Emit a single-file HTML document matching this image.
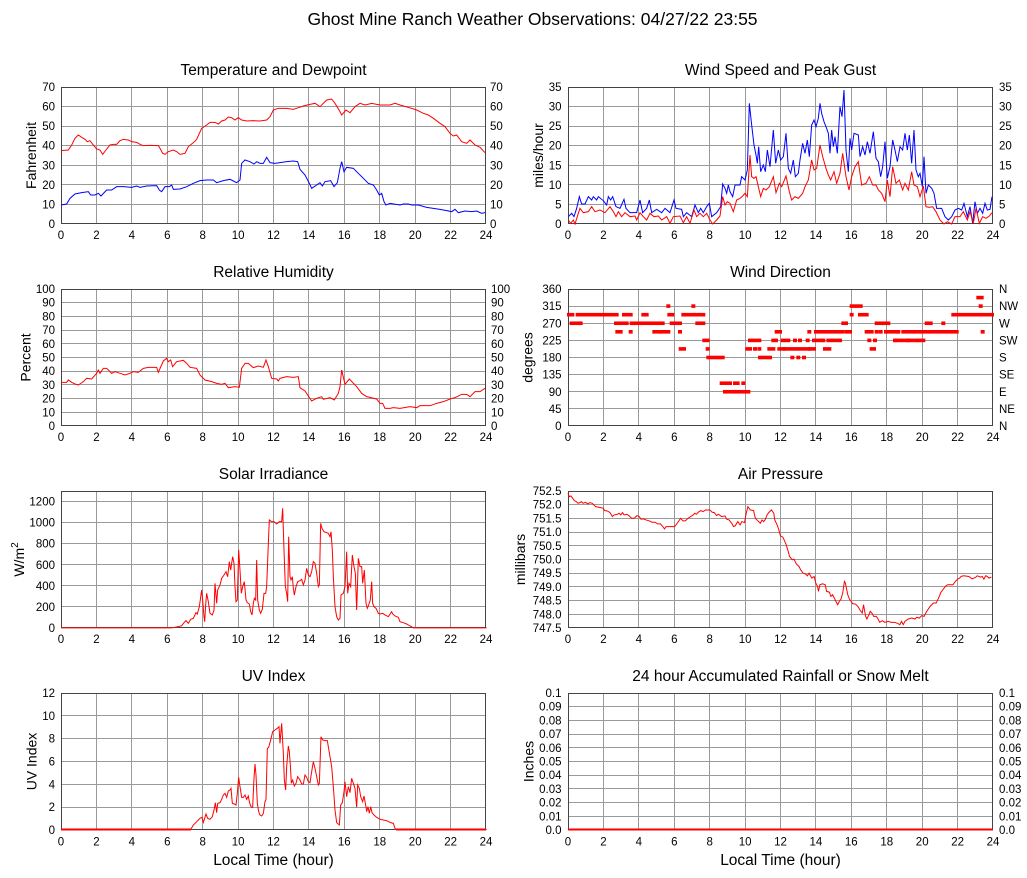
<!DOCTYPE html>
<html><head><meta charset="utf-8"><style>
html,body{margin:0;padding:0;background:#fff;}
svg{display:block;}
text{font-family:"Liberation Sans",sans-serif;fill:#000;}
.tk{font-size:11.5px;}
.ti{font-size:15.5px;}
.yl{font-size:14px;}
.g{stroke:#9a9a9a;stroke-width:1;fill:none;shape-rendering:crispEdges;}
.b{stroke:#444;stroke-width:1;fill:none;shape-rendering:crispEdges;}
.r{stroke:#ff0000;stroke-width:1;fill:none;}
.bl{stroke:#0000ff;stroke-width:1;fill:none;}
</style></head><body>
<svg width="1027" height="878" viewBox="0 0 1027 878" xmlns="http://www.w3.org/2000/svg">
<rect width="1027" height="878" fill="#fff"/>
<defs>
<clipPath id="c1"><rect x="60" y="85" width="427" height="141"/></clipPath>
<clipPath id="c2"><rect x="567" y="85" width="427" height="141"/></clipPath>
<clipPath id="c3"><rect x="60" y="287" width="427" height="141"/></clipPath>
<clipPath id="c4"><rect x="567" y="287" width="427" height="141"/></clipPath>
<clipPath id="c5"><rect x="60" y="489" width="427" height="141"/></clipPath>
<clipPath id="c6"><rect x="567" y="489" width="427" height="141"/></clipPath>
<clipPath id="c7"><rect x="60" y="691" width="427" height="141"/></clipPath>
<clipPath id="c8"><rect x="567" y="691" width="427" height="141"/></clipPath>
</defs>

<text x="532.5" y="25" text-anchor="middle" style="font-size:17.5px">Ghost Mine Ranch Weather Observations: 04/27/22 23:55</text>

<text class="ti" x="273.5" y="75" text-anchor="middle">Temperature and Dewpoint</text>
<text class="ti" x="780.5" y="75" text-anchor="middle">Wind Speed and Peak Gust</text>
<text class="ti" x="273.5" y="277" text-anchor="middle">Relative Humidity</text>
<text class="ti" x="780.5" y="277" text-anchor="middle">Wind Direction</text>
<text class="ti" x="273.5" y="479" text-anchor="middle">Solar Irradiance</text>
<text class="ti" x="780.5" y="479" text-anchor="middle">Air Pressure</text>
<text class="ti" x="273.5" y="681" text-anchor="middle">UV Index</text>
<text class="ti" x="780.5" y="681" text-anchor="middle">24 hour Accumulated Rainfall or Snow Melt</text>

<text class="yl" transform="translate(36,155.5) rotate(-90)" text-anchor="middle">Fahrenheit</text>
<text class="yl" transform="translate(543,155.5) rotate(-90)" text-anchor="middle">miles/hour</text>
<text class="yl" transform="translate(30.5,357.5) rotate(-90)" text-anchor="middle">Percent</text>
<text class="yl" transform="translate(532.5,357.5) rotate(-90)" text-anchor="middle">degrees</text>
<text class="yl" transform="translate(24,559.5) rotate(-90)" text-anchor="middle">W/m<tspan dy="-6" style="font-size:10px">2</tspan></text>
<text class="yl" transform="translate(525,559.5) rotate(-90)" text-anchor="middle">millibars</text>
<text class="yl" transform="translate(36.5,761.5) rotate(-90)" text-anchor="middle">UV Index</text>
<text class="yl" transform="translate(533.5,761.5) rotate(-90)" text-anchor="middle">Inches</text>

<text x="273.5" y="865" text-anchor="middle" style="font-size:15.5px">Local Time (hour)</text>
<text x="780.5" y="865" text-anchor="middle" style="font-size:15.5px">Local Time (hour)</text>

<!-- GRIDS -->
<path class="g" d="M96.5 87V224M131.5 87V224M167.5 87V224M202.5 87V224M238.5 87V224M273.5 87V224M308.5 87V224M344.5 87V224M379.5 87V224M415.5 87V224M450.5 87V224
M96.5 289V426M131.5 289V426M167.5 289V426M202.5 289V426M238.5 289V426M273.5 289V426M308.5 289V426M344.5 289V426M379.5 289V426M415.5 289V426M450.5 289V426
M96.5 491V628M131.5 491V628M167.5 491V628M202.5 491V628M238.5 491V628M273.5 491V628M308.5 491V628M344.5 491V628M379.5 491V628M415.5 491V628M450.5 491V628
M96.5 693V830M131.5 693V830M167.5 693V830M202.5 693V830M238.5 693V830M273.5 693V830M308.5 693V830M344.5 693V830M379.5 693V830M415.5 693V830M450.5 693V830"/>
<path class="g" d="M603.5 87V224M638.5 87V224M674.5 87V224M709.5 87V224M745.5 87V224M780.5 87V224M815.5 87V224M851.5 87V224M886.5 87V224M922.5 87V224M957.5 87V224
M603.5 289V426M638.5 289V426M674.5 289V426M709.5 289V426M745.5 289V426M780.5 289V426M815.5 289V426M851.5 289V426M886.5 289V426M922.5 289V426M957.5 289V426
M603.5 491V628M638.5 491V628M674.5 491V628M709.5 491V628M745.5 491V628M780.5 491V628M815.5 491V628M851.5 491V628M886.5 491V628M922.5 491V628M957.5 491V628
M603.5 693V830M638.5 693V830M674.5 693V830M709.5 693V830M745.5 693V830M780.5 693V830M815.5 693V830M851.5 693V830M886.5 693V830M922.5 693V830M957.5 693V830"/>
<path class="g" d="M61 106.5H486M61 126.5H486M61 145.5H486M61 165.5H486M61 184.5H486M61 204.5H486
M568 106.5H993M568 126.5H993M568 145.5H993M568 165.5H993M568 184.5H993M568 204.5H993"/>
<path class="g" d="M61 302.5H486M61 316.5H486M61 330.5H486M61 343.5H486M61 357.5H486M61 371.5H486M61 384.5H486M61 398.5H486M61 412.5H486"/>
<path class="g" d="M568 306.5H993M568 323.5H993M568 340.5H993M568 357.5H993M568 374.5H993M568 391.5H993M568 408.5H993"/>
<path class="g" d="M61 501.5H486M61 522.5H486M61 543.5H486M61 564.5H486M61 585.5H486M61 606.5H486"/>
<path class="g" d="M568 504.5H993M568 518.5H993M568 532.5H993M568 545.5H993M568 559.5H993M568 573.5H993M568 586.5H993M568 600.5H993M568 614.5H993"/>
<path class="g" d="M61 715.5H486M61 738.5H486M61 761.5H486M61 784.5H486M61 807.5H486"/>
<path class="g" d="M568 706.5H993M568 720.5H993M568 734.5H993M568 747.5H993M568 761.5H993M568 775.5H993M568 788.5H993M568 802.5H993M568 816.5H993"/>

<rect class="b" x="61.5" y="87.5" width="424" height="136"/>
<rect class="b" x="568.5" y="87.5" width="424" height="136"/>
<rect class="b" x="61.5" y="289.5" width="424" height="136"/>
<rect class="b" x="568.5" y="289.5" width="424" height="136"/>
<rect class="b" x="61.5" y="491.5" width="424" height="136"/>
<rect class="b" x="568.5" y="491.5" width="424" height="136"/>
<rect class="b" x="61.5" y="693.5" width="424" height="136"/>
<rect class="b" x="568.5" y="693.5" width="424" height="136"/>

<g class="tk" text-anchor="middle">
<text x="61" y="239">0</text><text x="96.4" y="239">2</text><text x="131.8" y="239">4</text><text x="167.3" y="239">6</text><text x="202.7" y="239">8</text><text x="238.1" y="239">10</text><text x="273.5" y="239">12</text><text x="308.9" y="239">14</text><text x="344.3" y="239">16</text><text x="379.8" y="239">18</text><text x="415.2" y="239">20</text><text x="450.6" y="239">22</text><text x="486" y="239">24</text>
<text x="568" y="239">0</text><text x="603.4" y="239">2</text><text x="638.8" y="239">4</text><text x="674.3" y="239">6</text><text x="709.7" y="239">8</text><text x="745.1" y="239">10</text><text x="780.5" y="239">12</text><text x="815.9" y="239">14</text><text x="851.3" y="239">16</text><text x="886.8" y="239">18</text><text x="922.2" y="239">20</text><text x="957.6" y="239">22</text><text x="993" y="239">24</text>
<text x="61" y="441">0</text><text x="96.4" y="441">2</text><text x="131.8" y="441">4</text><text x="167.3" y="441">6</text><text x="202.7" y="441">8</text><text x="238.1" y="441">10</text><text x="273.5" y="441">12</text><text x="308.9" y="441">14</text><text x="344.3" y="441">16</text><text x="379.8" y="441">18</text><text x="415.2" y="441">20</text><text x="450.6" y="441">22</text><text x="486" y="441">24</text>
<text x="568" y="441">0</text><text x="603.4" y="441">2</text><text x="638.8" y="441">4</text><text x="674.3" y="441">6</text><text x="709.7" y="441">8</text><text x="745.1" y="441">10</text><text x="780.5" y="441">12</text><text x="815.9" y="441">14</text><text x="851.3" y="441">16</text><text x="886.8" y="441">18</text><text x="922.2" y="441">20</text><text x="957.6" y="441">22</text><text x="993" y="441">24</text>
<text x="61" y="643">0</text><text x="96.4" y="643">2</text><text x="131.8" y="643">4</text><text x="167.3" y="643">6</text><text x="202.7" y="643">8</text><text x="238.1" y="643">10</text><text x="273.5" y="643">12</text><text x="308.9" y="643">14</text><text x="344.3" y="643">16</text><text x="379.8" y="643">18</text><text x="415.2" y="643">20</text><text x="450.6" y="643">22</text><text x="486" y="643">24</text>
<text x="568" y="643">0</text><text x="603.4" y="643">2</text><text x="638.8" y="643">4</text><text x="674.3" y="643">6</text><text x="709.7" y="643">8</text><text x="745.1" y="643">10</text><text x="780.5" y="643">12</text><text x="815.9" y="643">14</text><text x="851.3" y="643">16</text><text x="886.8" y="643">18</text><text x="922.2" y="643">20</text><text x="957.6" y="643">22</text><text x="993" y="643">24</text>
<text x="61" y="845.5">0</text><text x="96.4" y="845.5">2</text><text x="131.8" y="845.5">4</text><text x="167.3" y="845.5">6</text><text x="202.7" y="845.5">8</text><text x="238.1" y="845.5">10</text><text x="273.5" y="845.5">12</text><text x="308.9" y="845.5">14</text><text x="344.3" y="845.5">16</text><text x="379.8" y="845.5">18</text><text x="415.2" y="845.5">20</text><text x="450.6" y="845.5">22</text><text x="486" y="845.5">24</text>
<text x="568" y="845.5">0</text><text x="603.4" y="845.5">2</text><text x="638.8" y="845.5">4</text><text x="674.3" y="845.5">6</text><text x="709.7" y="845.5">8</text><text x="745.1" y="845.5">10</text><text x="780.5" y="845.5">12</text><text x="815.9" y="845.5">14</text><text x="851.3" y="845.5">16</text><text x="886.8" y="845.5">18</text><text x="922.2" y="845.5">20</text><text x="957.6" y="845.5">22</text><text x="993" y="845.5">24</text>
</g>

<g class="tk" text-anchor="end">
<text x="55" y="91">70</text><text x="55" y="110.6">60</text><text x="55" y="130.1">50</text><text x="55" y="149.7">40</text><text x="55" y="169.3">30</text><text x="55" y="188.9">20</text><text x="55" y="208.4">10</text><text x="55" y="228">0</text>
<text x="561.5" y="91">35</text><text x="561.5" y="110.6">30</text><text x="561.5" y="130.1">25</text><text x="561.5" y="149.7">20</text><text x="561.5" y="169.3">15</text><text x="561.5" y="188.9">10</text><text x="561.5" y="208.4">5</text><text x="561.5" y="228">0</text>
<text x="55" y="293">100</text><text x="55" y="306.7">90</text><text x="55" y="320.4">80</text><text x="55" y="334.1">70</text><text x="55" y="347.8">60</text><text x="55" y="361.5">50</text><text x="55" y="375.2">40</text><text x="55" y="388.9">30</text><text x="55" y="402.6">20</text><text x="55" y="416.3">10</text><text x="55" y="430">0</text>
<text x="561.5" y="293">360</text><text x="561.5" y="310.1">315</text><text x="561.5" y="327.3">270</text><text x="561.5" y="344.4">225</text><text x="561.5" y="361.5">180</text><text x="561.5" y="378.6">135</text><text x="561.5" y="395.8">90</text><text x="561.5" y="412.9">45</text><text x="561.5" y="430">0</text>
<text x="55" y="505.5">1200</text><text x="55" y="526.6">1000</text><text x="55" y="547.7">800</text><text x="55" y="568.8">600</text><text x="55" y="589.8">400</text><text x="55" y="610.9">200</text><text x="55" y="632">0</text>
<text x="561.5" y="495">752.5</text><text x="561.5" y="508.7">752.0</text><text x="561.5" y="522.4">751.5</text><text x="561.5" y="536.1">751.0</text><text x="561.5" y="549.8">750.5</text><text x="561.5" y="563.5">750.0</text><text x="561.5" y="577.2">749.5</text><text x="561.5" y="590.9">749.0</text><text x="561.5" y="604.6">748.5</text><text x="561.5" y="618.3">748.0</text><text x="561.5" y="632">747.5</text>
<text x="55" y="697">12</text><text x="55" y="719.8">10</text><text x="55" y="742.7">8</text><text x="55" y="765.5">6</text><text x="55" y="788.3">4</text><text x="55" y="811.2">2</text><text x="55" y="834">0</text>
<text x="561.5" y="697">0.1</text><text x="561.5" y="710.7">0.09</text><text x="561.5" y="724.4">0.08</text><text x="561.5" y="738.1">0.07</text><text x="561.5" y="751.8">0.06</text><text x="561.5" y="765.5">0.05</text><text x="561.5" y="779.2">0.04</text><text x="561.5" y="792.9">0.03</text><text x="561.5" y="806.6">0.02</text><text x="561.5" y="820.3">0.01</text><text x="561.5" y="834">0.0</text>
</g>

<g class="tk" text-anchor="start">
<text x="490" y="91">70</text><text x="490" y="110.6">60</text><text x="490" y="130.1">50</text><text x="490" y="149.7">40</text><text x="490" y="169.3">30</text><text x="490" y="188.9">20</text><text x="490" y="208.4">10</text><text x="490" y="228">0</text>
<text x="999" y="91">35</text><text x="999" y="110.6">30</text><text x="999" y="130.1">25</text><text x="999" y="149.7">20</text><text x="999" y="169.3">15</text><text x="999" y="188.9">10</text><text x="999" y="208.4">5</text><text x="999" y="228">0</text>
<text x="491" y="293">100</text><text x="491" y="306.7">90</text><text x="491" y="320.4">80</text><text x="491" y="334.1">70</text><text x="491" y="347.8">60</text><text x="491" y="361.5">50</text><text x="491" y="375.2">40</text><text x="491" y="388.9">30</text><text x="491" y="402.6">20</text><text x="491" y="416.3">10</text><text x="491" y="430">0</text>
<text x="999" y="293">N</text><text x="999" y="310.1">NW</text><text x="999" y="327.3">W</text><text x="999" y="344.4">SW</text><text x="999" y="361.5">S</text><text x="999" y="378.6">SE</text><text x="999" y="395.8">E</text><text x="999" y="412.9">NE</text><text x="999" y="430">N</text>
<text x="999" y="697">0.1</text><text x="999" y="710.7">0.09</text><text x="999" y="724.4">0.08</text><text x="999" y="738.1">0.07</text><text x="999" y="751.8">0.06</text><text x="999" y="765.5">0.05</text><text x="999" y="779.2">0.04</text><text x="999" y="792.9">0.03</text><text x="999" y="806.6">0.02</text><text x="999" y="820.3">0.01</text><text x="999" y="834">0.0</text>
</g>

<!-- ===== DATA ===== -->
<g clip-path="url(#c1)"><g transform="translate(0,50) scale(0.333333)">
<polyline class="r" vector-effect="non-scaling-stroke" points="183,302 205,300 215,285 225,265 235,255 245,262 255,268 262,275 270,272 280,285 290,297 300,300 308,313 318,300 330,285 340,283 350,283 360,272 370,268 385,270 395,275 410,277 420,283 430,287 450,286 475,287 480,295 488,310 495,313 505,305 520,300 530,305 540,313 555,310 565,290 580,278 590,268 605,235 620,225 630,217 645,217 655,222 665,213 675,210 685,201 695,203 705,210 715,203 725,210 740,213 760,212 780,213 800,210 810,200 820,180 835,175 860,175 880,178 895,173 910,168 930,163 945,160 960,170 980,150 995,147 1005,160 1020,185 1025,195 1038,180 1050,188 1065,170 1080,160 1095,165 1115,160 1140,165 1170,165 1185,160 1200,165 1225,172 1250,180 1270,190 1285,195 1300,205 1320,220 1335,230 1350,250 1360,258 1370,255 1385,275 1400,280 1410,270 1425,285 1440,292 1455,308"/>
<polyline class="bl" vector-effect="non-scaling-stroke" points="183,465 200,462 210,445 225,432 245,428 265,425 272,435 285,435 295,430 303,438 320,420 335,420 350,410 370,410 395,412 410,408 420,412 440,408 470,407 478,420 485,425 495,410 508,410 515,405 520,418 540,417 560,410 580,400 600,392 620,390 640,390 650,398 670,392 690,388 700,393 710,398 720,390 725,340 735,330 750,335 762,342 770,335 780,340 790,340 800,322 810,338 825,340 840,338 860,335 880,333 893,335 900,358 915,375 928,400 935,415 950,405 960,398 967,408 975,395 992,392 1002,410 1012,398 1020,355 1025,335 1032,365 1040,352 1060,355 1075,370 1090,385 1105,400 1120,405 1130,420 1138,435 1145,430 1152,455 1158,465 1170,460 1200,465 1210,462 1225,462 1235,465 1255,465 1280,472 1300,475 1320,478 1340,482 1355,485 1365,478 1375,488 1395,483 1415,485 1430,483 1445,490 1455,488"/>
</g></g>

<g clip-path="url(#c2)"><g transform="translate(510,50) scale(0.333333)">
<polyline class="bl" vector-effect="non-scaling-stroke" points="175,500 185,490 192,500 200,475 208,440 215,462 225,462 235,440 245,450 250,440 260,450 265,440 280,452 290,465 295,440 302,450 308,440 318,470 330,475 342,448 348,475 360,488 380,488 390,450 398,488 410,475 418,450 425,488 440,478 455,488 465,475 480,488 492,450 498,475 515,478 520,500 530,488 545,500 555,465 565,488 572,475 580,488 590,470 598,460 605,500 620,488 632,470 638,402 645,415 650,430 655,405 660,425 668,440 675,405 690,405 695,380 705,390 712,360 718,160 725,225 732,285 738,315 742,340 746,290 752,365 760,345 766,365 772,300 780,350 790,240 797,340 805,300 812,330 820,320 828,250 835,355 842,370 850,330 856,380 865,370 870,330 878,280 885,310 892,270 898,320 905,225 912,210 918,230 925,205 930,160 935,190 942,215 948,230 955,250 960,310 965,240 970,290 975,260 982,310 990,170 996,200 1002,120 1008,300 1015,365 1020,265 1025,300 1032,250 1045,255 1050,320 1058,290 1065,315 1072,275 1080,310 1090,245 1098,325 1105,335 1112,380 1118,350 1125,275 1132,385 1140,350 1148,270 1155,300 1162,335 1170,290 1178,300 1185,250 1192,300 1198,255 1205,340 1212,240 1218,360 1225,380 1230,370 1237,410 1242,320 1248,430 1255,405 1265,415 1272,430 1280,475 1295,475 1305,500 1315,510 1325,500 1335,480 1345,475 1355,480 1362,460 1372,500 1380,470 1388,520 1395,455 1402,490 1410,475 1418,490 1425,460 1432,480 1440,478 1446,440"/>
<polyline class="r" vector-effect="non-scaling-stroke" points="175,510 182,520 190,510 195,522 205,490 210,475 220,488 235,485 245,470 255,485 270,480 285,488 300,470 310,485 318,500 325,485 335,500 345,488 360,500 375,498 380,510 390,488 400,500 410,510 420,490 432,500 445,498 455,510 470,500 480,520 490,500 510,498 520,518 530,500 540,520 552,480 560,500 570,490 580,500 590,490 600,510 608,522 620,510 630,498 638,440 645,465 652,455 660,460 670,485 680,450 690,445 698,438 705,430 712,440 720,315 725,380 732,385 738,380 745,410 752,440 760,415 768,420 778,410 790,380 798,428 808,400 815,410 828,378 838,425 845,450 855,440 865,445 878,430 885,410 895,390 905,330 912,360 920,355 930,285 938,320 948,355 955,375 962,390 972,365 980,400 990,370 998,310 1008,380 1017,420 1025,380 1035,350 1045,335 1055,405 1068,400 1078,380 1088,405 1098,405 1105,420 1115,430 1125,455 1132,390 1140,440 1148,350 1158,400 1168,390 1178,420 1185,400 1195,420 1205,365 1212,405 1222,410 1230,440 1240,408 1248,470 1258,472 1268,470 1278,485 1290,510 1302,522 1312,515 1325,522 1335,500 1350,500 1360,485 1372,510 1380,485 1390,520 1398,475 1408,520 1418,500 1428,505 1438,498 1446,488"/>
</g></g>

<g clip-path="url(#c3)"><g transform="translate(0,255) scale(0.333333)">
<polyline class="r" vector-effect="non-scaling-stroke" points="183,382 200,382 205,375 215,382 225,387 235,390 250,380 260,370 275,372 290,355 295,345 300,355 310,340 320,340 335,355 345,350 360,355 375,360 390,355 400,350 415,352 430,340 445,337 470,337 475,352 490,318 500,310 505,320 512,315 518,335 530,320 550,316 560,325 570,337 590,340 600,360 615,375 635,380 650,385 665,388 675,385 685,398 705,395 718,397 725,340 735,325 745,325 760,338 775,333 790,337 798,315 805,335 815,370 830,372 835,378 840,370 860,365 880,367 895,365 900,398 915,408 935,438 950,430 965,425 970,433 990,428 1003,435 1015,415 1020,395 1025,345 1035,388 1048,372 1070,395 1085,415 1100,425 1130,432 1140,445 1148,445 1155,460 1170,460 1180,458 1200,460 1230,455 1250,458 1260,452 1290,452 1310,445 1330,440 1350,432 1365,428 1385,418 1400,418 1410,425 1425,410 1440,410 1455,400"/>
</g></g>

<g clip-path="url(#c4)"><g transform="translate(510,-0.3) scale(0.333333,1)" fill="#ff0000">
<g transform="translate(0,313.2)">
<rect x="162" y="0" width="31" height="3.6"/><rect x="197" y="0" width="129" height="3.6"/><rect x="336" y="0" width="32" height="3.6"/><rect x="394" y="0" width="22" height="3.6"/><rect x="472" y="0" width="21" height="3.6"/><rect x="514" y="0" width="42" height="3.6"/><rect x="549" y="0" width="22" height="3.6"/><rect x="564" y="0" width="22" height="3.6"/><rect x="1019" y="0" width="12" height="3.6"/><rect x="1044" y="0" width="32" height="3.6"/><rect x="1324" y="0" width="92" height="3.6"/><rect x="1414" y="0" width="42" height="3.6"/>
</g>
<g transform="translate(0,321.75)">
<rect x="179" y="0" width="32" height="3.6"/><rect x="206" y="0" width="12" height="3.6"/><rect x="312" y="0" width="16" height="3.6"/><rect x="326" y="0" width="20" height="3.6"/><rect x="344" y="0" width="12" height="3.6"/><rect x="359" y="0" width="47" height="3.6"/><rect x="404" y="0" width="37" height="3.6"/><rect x="439" y="0" width="25" height="3.6"/><rect x="479" y="0" width="37" height="3.6"/><rect x="556" y="0" width="20" height="3.6"/><rect x="574" y="0" width="12" height="3.6"/><rect x="994" y="0" width="20" height="3.6"/><rect x="1094" y="0" width="47" height="3.6"/><rect x="1244" y="0" width="24" height="3.6"/><rect x="1294" y="0" width="12" height="3.6"/>
</g>
<g transform="translate(0,330.3)">
<rect x="316" y="0" width="22" height="3.6"/><rect x="356" y="0" width="12" height="3.6"/><rect x="427" y="0" width="29" height="3.6"/><rect x="449" y="0" width="32" height="3.6"/><rect x="504" y="0" width="12" height="3.6"/><rect x="794" y="0" width="22" height="3.6"/><rect x="892" y="0" width="12" height="3.6"/><rect x="912" y="0" width="12" height="3.6"/><rect x="924" y="0" width="30" height="3.6"/><rect x="952" y="0" width="29" height="3.6"/><rect x="977" y="0" width="27" height="3.6"/><rect x="1004" y="0" width="22" height="3.6"/><rect x="1064" y="0" width="27" height="3.6"/><rect x="1094" y="0" width="12" height="3.6"/><rect x="1106" y="0" width="12" height="3.6"/><rect x="1122" y="0" width="12" height="3.6"/><rect x="1129" y="0" width="37" height="3.6"/><rect x="1159" y="0" width="12" height="3.6"/><rect x="1174" y="0" width="42" height="3.6"/><rect x="1209" y="0" width="22" height="3.6"/><rect x="1229" y="0" width="32" height="3.6"/><rect x="1256" y="0" width="90" height="3.6"/><rect x="1412" y="0" width="12" height="3.6"/>
</g>
<g transform="translate(0,304.6)">
<rect x="469" y="0" width="12" height="3.6"/><rect x="544" y="0" width="12" height="3.6"/><rect x="1019" y="0" width="39" height="3.6"/><rect x="1406" y="0" width="12" height="3.6"/>
</g>
<rect x="1399" y="296.1" width="22" height="3.6"/>
<g transform="translate(0,347.4)">
<rect x="506" y="0" width="22" height="3.6"/><rect x="587" y="0" width="12" height="3.6"/><rect x="706" y="0" width="20" height="3.6"/><rect x="729" y="0" width="12" height="3.6"/><rect x="742" y="0" width="12" height="3.6"/><rect x="772" y="0" width="24" height="3.6"/><rect x="802" y="0" width="24" height="3.6"/><rect x="819" y="0" width="47" height="3.6"/><rect x="864" y="0" width="37" height="3.6"/><rect x="894" y="0" width="24" height="3.6"/><rect x="939" y="0" width="25" height="3.6"/><rect x="1079" y="0" width="19" height="3.6"/>
</g>
<g transform="translate(0,338.9)">
<rect x="577" y="0" width="22" height="3.6"/><rect x="714" y="0" width="40" height="3.6"/><rect x="784" y="0" width="20" height="3.6"/><rect x="812" y="0" width="29" height="3.6"/><rect x="849" y="0" width="12" height="3.6"/><rect x="864" y="0" width="12" height="3.6"/><rect x="887" y="0" width="12" height="3.6"/><rect x="906" y="0" width="35" height="3.6"/><rect x="934" y="0" width="12" height="3.6"/><rect x="949" y="0" width="47" height="3.6"/><rect x="1072" y="0" width="12" height="3.6"/><rect x="1089" y="0" width="12" height="3.6"/><rect x="1149" y="0" width="12" height="3.6"/><rect x="1154" y="0" width="47" height="3.6"/><rect x="1189" y="0" width="37" height="3.6"/><rect x="1219" y="0" width="27" height="3.6"/>
</g>
<g transform="translate(0,356)">
<rect x="589" y="0" width="55" height="3.6"/><rect x="744" y="0" width="42" height="3.6"/><rect x="841" y="0" width="12" height="3.6"/><rect x="859" y="0" width="12" height="3.6"/><rect x="876" y="0" width="12" height="3.6"/>
</g>
<g transform="translate(0,381.7)">
<rect x="629" y="0" width="25" height="3.6"/><rect x="654" y="0" width="12" height="3.6"/><rect x="669" y="0" width="20" height="3.6"/><rect x="694" y="0" width="12" height="3.6"/>
</g>
<g transform="translate(0,390.25)">
<rect x="639" y="0" width="39" height="3.6"/><rect x="672" y="0" width="49" height="3.6"/>
</g>
</g></g>

<g clip-path="url(#c5)"><g transform="translate(0,460) scale(0.333333)">
<polyline class="r" vector-effect="non-scaling-stroke" points="183,503.5 510,503.5 520,503 535,500 545,497 552,488 558,482 565,490 572,478 580,475 588,458 592,462 598,440 605,390 608,420 612,470 614,485 617,435 620,400 625,425 630,460 637,465 642,450 645,370 650,430 653,390 660,375 665,355 672,345 678,335 683,350 688,305 692,330 698,290 702,310 705,380 708,425 712,420 716,270 720,330 724,400 728,380 733,365 738,420 742,428 748,432 752,455 756,465 760,430 763,415 767,420 770,300 773,420 778,450 782,460 787,448 792,400 797,400 800,380 805,250 808,180 815,185 822,185 830,192 838,185 845,185 848,145 852,270 856,380 860,400 863,425 866,230 870,350 873,360 877,350 880,385 883,405 888,380 893,365 900,362 905,358 910,375 915,360 920,325 925,345 930,350 935,335 940,305 945,310 950,340 955,380 958,375 962,190 966,205 972,215 985,220 990,230 993,215 997,270 1000,350 1005,440 1010,470 1015,480 1020,475 1023,405 1030,400 1035,380 1040,275 1043,400 1047,370 1052,380 1057,285 1062,320 1066,340 1070,450 1075,295 1080,320 1085,320 1088,370 1093,330 1098,430 1102,445 1106,435 1111,420 1115,365 1118,430 1122,440 1128,445 1135,460 1140,462 1148,460 1155,465 1165,470 1175,455 1178,462 1185,468 1195,472 1200,485 1210,488 1220,492 1230,498 1240,503.5 1460,503.5"/>
</g></g>

<g clip-path="url(#c6)"><g transform="matrix(0.33623,0,0,0.33252,499.75,460.07)">
<polyline class="r" vector-effect="non-scaling-stroke" points="203,100 207,110 212,108 217,115 222,122 228,125 233,130 238,128 243,125 248,130 255,127 262,132 268,128 275,130 285,140 300,143 308,145 312,152 320,153 328,158 335,170 340,165 350,163 355,160 360,165 365,158 370,165 378,163 385,168 392,175 400,175 408,167 415,170 420,178 428,177 435,180 445,183 453,187 462,187 470,192 478,192 485,200 490,207 495,200 505,200 520,200 530,187 538,175 545,183 552,183 560,175 568,170 575,165 580,160 585,163 590,157 598,152 605,155 612,150 625,150 632,157 638,158 645,167 650,163 660,170 670,168 675,178 682,180 690,190 695,200 700,198 708,185 715,195 720,185 728,188 733,160 738,140 745,150 755,152 760,175 768,183 775,190 780,180 785,185 790,178 795,165 800,158 808,150 815,160 818,180 825,195 830,210 835,228 842,232 848,245 852,255 858,275 862,290 870,300 875,298 882,312 890,320 895,330 902,340 910,343 915,348 920,340 928,355 935,350 940,370 945,380 948,395 952,375 960,372 968,375 972,395 980,397 985,410 990,405 995,415 1000,425 1005,435 1010,425 1015,418 1020,400 1025,365 1028,370 1035,405 1040,418 1045,425 1050,432 1058,433 1065,440 1072,452 1078,460 1082,435 1088,470 1092,478 1098,465 1102,455 1108,462 1112,470 1120,470 1125,478 1130,488 1138,483 1145,488 1155,485 1165,488 1175,488 1185,492 1190,495 1195,485 1200,495 1205,485 1215,478 1225,475 1235,478 1240,473 1248,475 1255,468 1262,470 1270,455 1280,440 1290,430 1298,430 1305,415 1312,398 1318,390 1325,380 1332,375 1340,375 1348,375 1355,365 1362,358 1368,355 1372,350 1380,348 1395,350 1405,357 1415,353 1420,348 1430,352 1435,350 1440,358 1445,348 1450,350 1455,355 1462,352"/>
</g></g>

<g clip-path="url(#c7)"><g transform="translate(0,660) scale(0.333333)">
<polyline class="r" vector-effect="non-scaling-stroke" points="183,508.5 572,508.5 580,495 590,485 600,475 606,472 610,487 614,475 618,462 623,475 630,478 637,470 642,450 646,428 650,458 653,430 660,428 665,418 670,405 675,400 680,412 685,393 690,390 693,385 697,430 703,432 708,435 712,400 716,352 720,380 725,412 730,412 735,405 740,418 745,408 748,425 752,438 755,442 758,442 762,355 765,312 768,345 772,430 776,455 780,465 785,468 790,460 795,425 798,418 802,265 806,262 812,240 818,215 825,210 832,205 837,200 840,250 845,190 850,280 853,360 857,390 860,320 865,258 868,275 871,315 874,370 878,360 883,378 888,370 893,350 900,360 905,372 910,372 915,345 920,352 925,365 930,368 935,335 940,305 945,325 950,350 955,375 958,370 963,230 968,240 975,242 982,242 985,260 990,290 995,320 1000,380 1005,450 1010,488 1018,495 1022,435 1027,428 1032,395 1035,365 1040,410 1045,380 1050,398 1055,355 1060,370 1065,385 1070,442 1073,375 1078,385 1082,410 1088,425 1092,408 1097,435 1100,455 1104,440 1108,460 1112,440 1116,458 1122,465 1130,472 1140,478 1150,480 1160,482 1172,488 1180,490 1185,505 1188,508.5 1460,508.5"/>
</g></g>
<!-- UV zero segments (explicit) -->
<line x1="61" y1="829.5" x2="191" y2="829.5" stroke="#ff0000" stroke-width="2"/>
<line x1="396" y1="829.5" x2="486" y2="829.5" stroke="#ff0000" stroke-width="2"/>

<!-- Rain -->
<line x1="568" y1="829.5" x2="993" y2="829.5" stroke="#ff0000" stroke-width="2"/>

</svg>
</body></html>
